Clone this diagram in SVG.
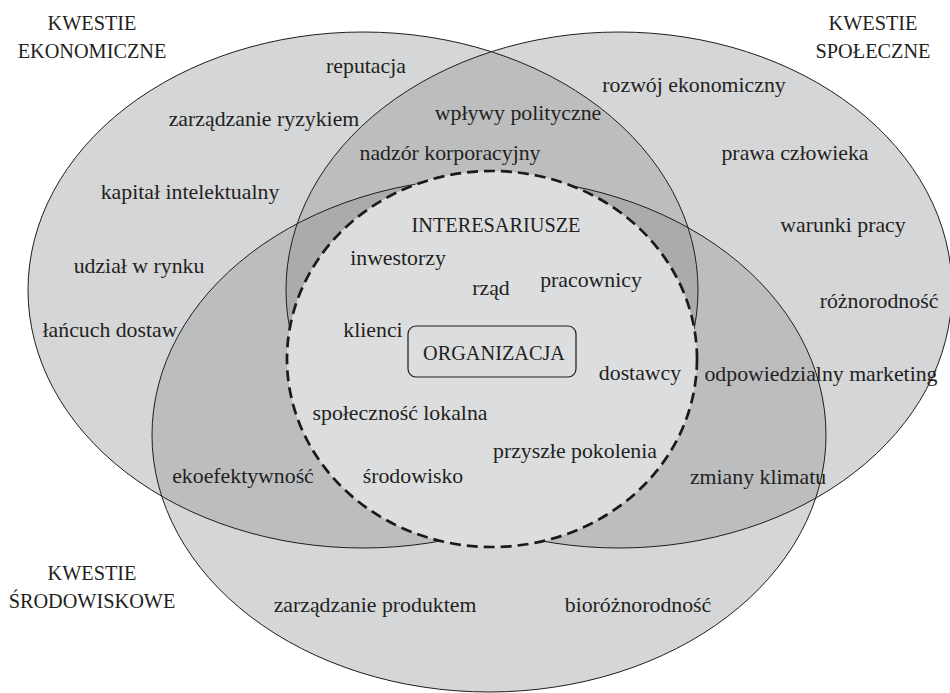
<svg xmlns="http://www.w3.org/2000/svg" width="950" height="693" viewBox="0 0 950 693">
<style>
.s{fill:#d5d6d8}
.d{fill:#bcbdbf}
.t{fill:#aaabad}
.o{fill:none;stroke:#1e1e1e;stroke-width:1}
text{font-family:"Liberation Serif","Times New Roman",serif;fill:#231f20;text-anchor:middle}
.l{font-size:21.8px}
.c{font-size:20.3px}
</style>
<defs>
<clipPath id="cL"><ellipse cx="363" cy="290" rx="335" ry="258"/></clipPath>
<clipPath id="cR"><ellipse cx="619" cy="290" rx="333" ry="258"/></clipPath>
<clipPath id="cE"><ellipse cx="489" cy="435" rx="337" ry="257"/></clipPath>
</defs>
<rect width="950" height="693" fill="#fff"/>
<g id="fills">
<ellipse class="s" cx="363" cy="290" rx="335" ry="258"/>
<ellipse class="s" cx="619" cy="290" rx="333" ry="258"/>
<ellipse class="s" cx="489" cy="435" rx="337" ry="257"/>
<ellipse class="d" cx="619" cy="290" rx="333" ry="258" clip-path="url(#cL)"/>
<ellipse class="d" cx="489" cy="435" rx="337" ry="257" clip-path="url(#cL)"/>
<ellipse class="d" cx="489" cy="435" rx="337" ry="257" clip-path="url(#cR)"/>
<g clip-path="url(#cL)"><ellipse class="t" cx="489" cy="435" rx="337" ry="257" clip-path="url(#cR)"/></g>
</g>
<g id="economic">
<ellipse class="o" cx="363" cy="290" rx="335" ry="258"/>
</g>
<g id="social">
<ellipse class="o" cx="619" cy="290" rx="333" ry="258"/>
</g>
<g id="environmental">
<ellipse class="o" cx="489" cy="435" rx="337" ry="257"/>
</g>
<g id="stakeholders">
<ellipse cx="492" cy="359" rx="205" ry="188" fill="#dcdddf" stroke="#1a1a1a" stroke-width="2.7" stroke-dasharray="11 6"/>
<text class="c" x="496" y="232">INTERESARIUSZE</text>
<text class="l" x="398" y="265">inwestorzy</text>
<text class="l" x="491" y="295">rząd</text>
<text class="l" x="591" y="287">pracownicy</text>
<text class="l" x="373" y="337">klienci</text>
<text class="l" x="640" y="380">dostawcy</text>
<text class="l" x="400" y="420">społeczność lokalna</text>
<text class="l" x="575" y="458">przyszłe pokolenia</text>
<text class="l" x="413" y="483">środowisko</text>
</g>
<g id="organization">
<rect x="408" y="326" width="168" height="51" rx="8" fill="none" stroke="#1a1a1a" stroke-width="1.2"/>
<text class="c" x="494" y="360">ORGANIZACJA</text>
</g>
<g id="labels">
<text class="c" x="92" y="30">KWESTIE</text>
<text class="c" x="92" y="58">EKONOMICZNE</text>
<text class="c" x="873" y="30">KWESTIE</text>
<text class="c" x="873" y="58">SPOŁECZNE</text>
<text class="c" x="92" y="580">KWESTIE</text>
<text class="c" x="92" y="608">ŚRODOWISKOWE</text>
<text class="l" x="366" y="73">reputacja</text>
<text class="l" x="264" y="126">zarządzanie ryzykiem</text>
<text class="l" x="518" y="120">wpływy polityczne</text>
<text class="l" x="450" y="160">nadzór korporacyjny</text>
<text class="l" x="694" y="92">rozwój ekonomiczny</text>
<text class="l" x="190" y="199">kapitał intelektualny</text>
<text class="l" x="795" y="160">prawa człowieka</text>
<text class="l" x="843" y="232">warunki pracy</text>
<text class="l" x="139" y="273">udział w rynku</text>
<text class="l" x="879" y="308">różnorodność</text>
<text class="l" x="110" y="337">łańcuch dostaw</text>
<text class="l" x="821" y="381">odpowiedzialny marketing</text>
<text class="l" x="243" y="483">ekoefektywność</text>
<text class="l" x="758" y="484">zmiany klimatu</text>
<text class="l" x="375" y="612">zarządzanie produktem</text>
<text class="l" x="638" y="612">bioróżnorodność</text>
</g>
</svg>
